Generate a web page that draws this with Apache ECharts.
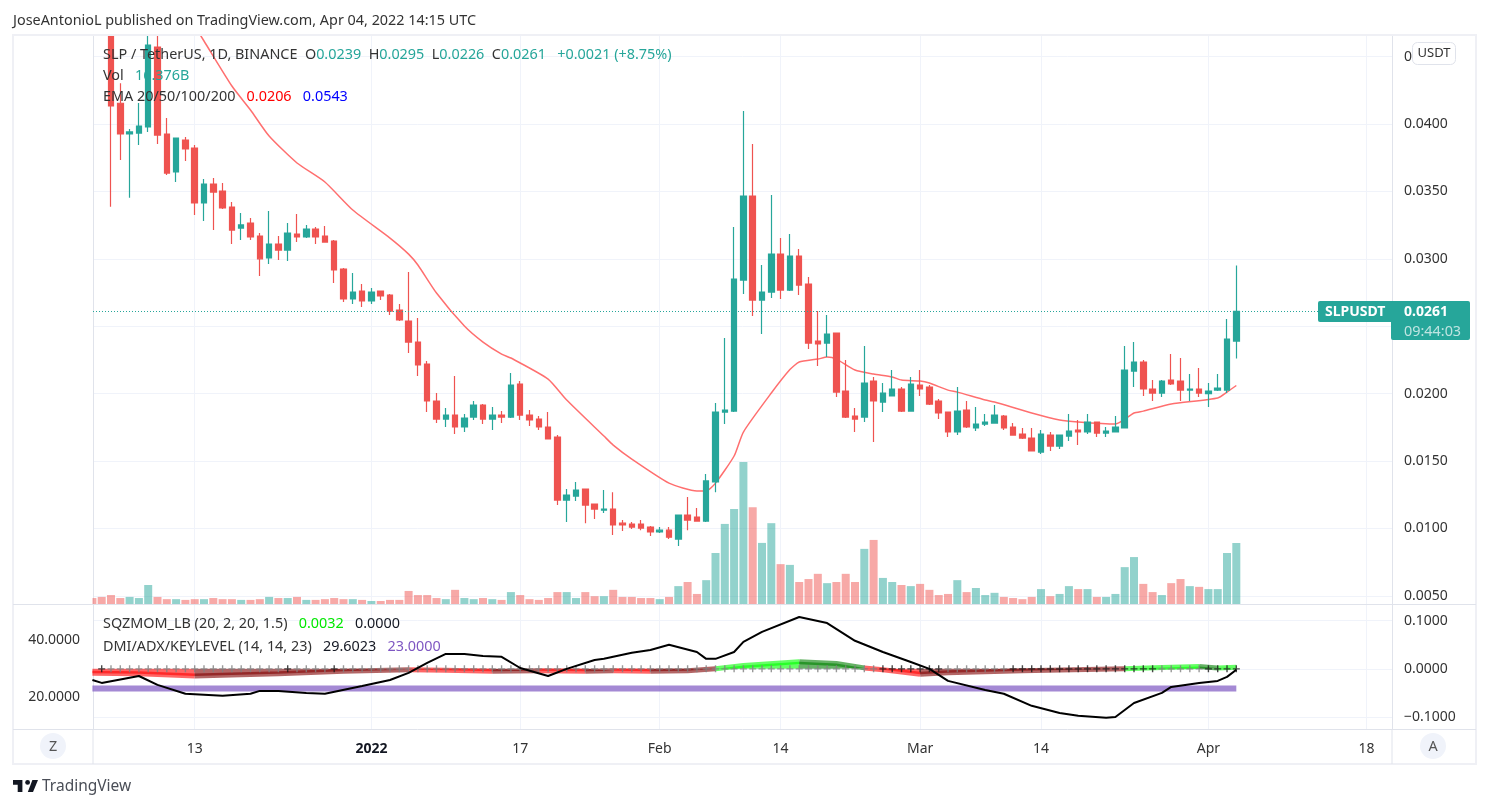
<!DOCTYPE html>
<html>
<head>
<meta charset="utf-8">
<title>SLPUSDT</title>
<script src="https://cdn.jsdelivr.net/npm/echarts@6/dist/echarts.min.js"></script>
<style>
html, body { margin: 0; padding: 0; background: #fff; }
#chart { width: 1489px; height: 808px; }
</style>
</head>
<body>
<div id="chart"></div>
<script>
// candles, one per day, day 0 = Dec 2 2021
let opens = [.059,.055,.0505,.04154,.03926,.03933,.03978,.04571,.03926,.03644,.03881,.03822,.03414,.03555,.03503,.03384,.03228,.03265,.03169,.03006,
  .0311,.03065,.03184,.03162,.03221,.03169,.03132,.02924,.02702,.02761,.02687,.02761,.02731,.0262,.02538,.02382,.02219,.01945,.01811,.01841,
  .01752,.01826,.01915,.01811,.01841,.01826,.02071,.01841,.01811,.01752,.01678,.0121,.0124,.01292,.0118,.01136,.01143,.01039,.01032,.01032,
  .0101,.00973,.00987,.00921,.01099,.01084,.01054,.01344,.01863,.0187,.02842,.03466,.02694,.02753,.03035,.02768,.03021,.02813,.0239,.02375,
  .02449,.02019,.01833,.01826,.02093,.01937,.01982,.02034,.0187,.02063,.02048,.01945,.01863,.01715,.01878,.01745,.01774,.01781,.01833,.01752,
  .017,.0167,.01566,.01692,.01611,.01685,.01729,.01715,.01789,.01707,.01715,.01745,.02167,.02234,.02034,.02004,.021,.02093,.02026,.02034,
  .02,.02026,.02026,.0239];
let closes = [.055,.0505,.04134,.03926,.03941,.03985,.04586,.03918,.03636,.03896,.03815,.03414,.03555,.03495,.03377,.03213,.03251,.03162,.03,.0311,
  .03065,.03191,.03162,.03221,.03162,.03124,.02917,.02702,.02753,.02687,.02753,.02724,.02612,.02546,.02382,.02212,.01945,.01811,.01841,.01752,
  .01819,.01915,.01811,.01841,.01826,.02063,.01841,.01804,.01752,.01663,.0121,.01247,.01284,.01173,.01143,.01143,.01025,.01025,.0101,.01002,
  .00973,.00987,.00935,.01099,.01062,.01054,.01352,.01863,.01878,.0285,.03466,.02694,.02753,.03035,.02768,.03021,.02805,.02375,.02368,.02442,
  .02011,.01826,.01811,.02078,.01945,.02004,.02034,.0187,.02071,.02034,.01922,.01856,.01715,.0187,.01752,.01774,.01789,.01841,.01745,.01692,
  .0167,.01574,.017,.01611,.01692,.01722,.01715,.01789,.01707,.01722,.01752,.02175,.02234,.02034,.02004,.02093,.02071,.02026,.02034,.02004,
  .02019,.02041,.02405,.0261];
let lows = [.0545,.0495,.03386,.03733,.03453,.03844,.03941,.03852,.03622,.0357,.03725,.03325,.0328,.03213,.03369,.0311,.03139,.03139,.02872,.02961,
  .02991,.02983,.03124,.03154,.0311,.03124,.0282,.02679,.02664,.02642,.02664,.02694,.02583,.02538,.02301,.0213,.01863,.01781,.01752,.017,
  .01715,.01804,.01774,.01729,.01781,.01819,.01804,.01759,.01729,.01663,.01173,.01047,.01203,.01039,.01069,.01114,.0095,.0098,.00995,.00987,
  .00943,.00965,.00921,.00869,.00987,.01054,.01047,.01269,.01774,.01863,.02739,.02575,.02442,.02709,.02702,.02761,.02731,.0233,.02204,.02271,
  .01974,.01819,.01715,.01789,.0164,.01863,.01982,.01863,.0187,.01982,.01915,.01811,.01678,.01692,.01745,.01722,.01759,.01781,.01729,.01692,
  .01663,.01574,.01551,.01574,.01589,.01648,.01618,.017,.01678,.01678,.01715,.01745,.02048,.01982,.01945,.01974,.02063,.01945,.01945,.01974,
  .019,.02019,.02004,.0226];
let highs = [.061,.056,.051,.04302,.03963,.04156,.0475,.0466,.04045,.03896,.03904,.03844,.03592,.03599,.03562,.03421,.0334,.03303,.03191,.03354,
  .03169,.03265,.03332,.03251,.03236,.03243,.03139,.02932,.02894,.02813,.02783,.02761,.02739,.02664,.02902,.0256,.02241,.02004,.01893,.0213,
  .01848,.01945,.01922,.019,.0187,.02152,.02093,.01878,.01833,.01863,.01692,.01292,.01344,.01292,.0118,.01284,.01269,.01062,.01047,.01062,
  .01017,.0101,.0101,.01099,.01232,.01151,.01403,.0193,.02412,.03236,.04096,.03852,.02954,.03473,.03154,.03184,.03073,.02865,.02612,.02583,
  .02449,.02249,.01893,.02353,.02123,.02078,.02175,.02048,.02123,.02175,.02063,.0196,.01863,.02048,.01945,.019,.01848,.01915,.01841,.01781,
  .01745,.01745,.01729,.01715,.01692,.01848,.01804,.01848,.01789,.01752,.01833,.02353,.02382,.02249,.021,.021,.02293,.02264,.02145,.0219,
  .02078,.02145,.02553,.0295];
// volume, billions
let volumes = [1.6,1.9,2.4,1.6,1.9,1.6,5.1,1.9,1.3,1.3,1.1,1.3,1.3,1.6,1.3,1.3,1.1,1.1,1.3,1.9,
  1.6,1.6,1.9,1.1,1.1,1.3,1.6,1.3,1.3,1.1,.8,.8,1.1,1.1,3.5,2.4,2.4,1.6,1.3,3.8,
  1.6,1.3,1.6,1.3,1.1,3.2,2.4,1.3,1.1,1.6,3.2,3.2,1.6,3.2,2.1,2.1,3.8,1.9,1.9,1.6,
  1.6,1.3,1.9,4.8,5.9,2.7,6.4,13.7,21.5,25.5,38.1,26,16.4,21.7,10.7,10.5,5.9,6.7,8.1,5.6,
  5.9,8.1,5.9,14.8,17.2,7,5.9,5.1,4.8,5.4,3.8,2.4,2.7,6.4,3.2,4.3,2.4,3,1.9,1.6,
  1.3,1.9,4,2.1,2.7,4.8,4,4,1.9,1.9,2.7,9.9,12.6,5.4,3.2,2.4,5.6,6.7,4.8,4.6,
  4,4,13.7,16.376];
// EMA 20, read at these days
let emaDays = [11,12,15,17,19,22,25,28,32,34,35,37,40,42,44,45,49,51,55,56,58,62,65,66,67,69,70,73,75,76,78,79,80,82,84,86,87,89,90,92,93,96,97,101,104,106,110,112,113,116,121,122,123];
let emaValues = [.04727,.04616,.04282,.04104,.03911,.03711,.0357,.03362,.03154,.03035,.02954,.02746,.02501,.02382,.02293,.02264,.02108,.01952,.01685,.01618,.01514,.01336,.01277,.01277,.01336,.01537,.01715,.02004,.02178,.02234,.02256,.02271,.02256,.02175,.02145,.02123,.021,.02093,.02078,.02026,.02011,.01952,.01937,.01856,.01804,.01789,.01774,.01856,.0187,.01922,.01967,.02011,.0206];
// ADX, read at these days
let adxDays = [0,1,5,7,10,14,17,18,20,23,25,29,32,34,36,38,40,42,44,46,49,51,54,55,58,60,62,65,66,67,69,70,72,76,79,82,85,88,90,92,96,98,101,104,106,109,110,112,115,116,119,121,122,123];
let adxValues = [26,25,27.4,24.3,21.2,20.5,21.2,22.2,22.2,21.5,21.2,23.9,26,28.5,32,35.1,35.1,34.4,34.1,30.2,27.4,29.9,33,33.4,35.5,36.5,38.3,35.8,33.4,33.4,35.8,39.3,42.8,48,45.9,39.7,35.8,32.3,29.9,25.7,22.5,21.2,17,14.5,13.5,12.8,13.1,18,21.5,23.6,25,25.7,27.1,29.6023];
let keyLevelDays = [0,123];
let keyLevelValues = [23,23];
// squeeze momentum pieces [day, value], by colour
let momFallingNeg = [[[0,-.009],[5,-.01],[11,-.015]], [[34,-.002],[38,-.003],[43,-.005]], [[48,-.004],[53,-.005]], [[56,-.004],[60,-.005]], [[83,.002],[85,-.002],[89,-.011]]];
let momRisingNeg = [[[11,-.015],[20,-.01],[27,-.005],[34,-.002]], [[43,-.005],[48,-.004]], [[53,-.005],[56,-.004]], [[60,-.005],[64,-.004],[67,0]], [[89,-.011],[92,-.008],[100,-.004],[111,0]]];
let momRisingPos = [[[67,0],[70,.007],[76,.015]], [[111,0],[115,.003],[119,.005]], [[121,.002],[123,.0032]]];
let momFallingPos = [[[76,.015],[80,.011],[83,.002]], [[119,.005],[121,.002]]];
let blackCrossDays = [0,1,21,26,85,86,87,88,89,90,91,99,100,101,102,103,104,105,106,107,108,109,110,111,112,113,114,120,121,122,123];
let grayCrossDays = [];
for (let d = 0; d <= 123; d++) {
    if (blackCrossDays.indexOf(d) < 0) grayCrossDays.push(d);
}

let tickDays = [11,30,46,61,74,89,102,120,137];
let tickLabels = ['13','2022','17','Feb','14','Mar','14','Apr','18'];
let priceTicks = [.005,.01,.015,.02,.025,.03,.035,.04,.045];
let momTicks = [-.1,0,.1];
let dmiTicks = [20,40];

const FONT = '"Noto Sans", sans-serif';
const UP = '#26a69a', DOWN = '#ef5350';
const GRID = '#f0f3fa', EDGE = '#e0e3eb';
const dayMin = .065, dayMax = 139.74;

function dayAxis(gridIndex, showLabels) {
    return {
        type: 'value', gridIndex: gridIndex, min: dayMin, max: dayMax, position: 'bottom',
        axisLine: { onZero: false, show: true, lineStyle: { color: EDGE, width: 1 } },
        axisTick: { show: false, customValues: tickDays },
        splitLine: { show: true, lineStyle: { color: GRID, width: 1 } },
        axisLabel: {
            show: showLabels, customValues: tickDays, margin: 13, hideOverlap: false, fontFamily: FONT, fontSize: 14, color: '#333',
            formatter: function (v) {
                let t = tickLabels[tickDays.indexOf(v)];
                return t === '2022' ? '{b|2022}' : t;
            },
            rich: { b: { fontFamily: FONT, fontSize: 14, fontWeight: 'bold', color: '#131722' } }
        }
    };
}

let candleData = opens.map(function (o, i) { return [i, o, closes[i], lows[i], highs[i]]; });
let volumeData = volumes.map(function (v, i) {
    return { value: [i, v], itemStyle: { color: closes[i] >= opens[i] ? 'rgba(38,166,154,.5)' : 'rgba(239,83,80,.5)' } };
});

let series = [
    { name: 'Vol', type: 'bar', xAxisIndex: 0, yAxisIndex: 1, barWidth: 8, data: volumeData, z: 1 },
    {
        name: 'EMA', type: 'line', xAxisIndex: 0, yAxisIndex: 0, showSymbol: false, smooth: .2, z: 2,
        data: emaDays.map(function (d, i) { return [d, emaValues[i]]; }),
        lineStyle: { color: '#ff6f6f', width: 1.5 }
    },
    {
        name: 'SLPUSDT', type: 'candlestick', xAxisIndex: 0, yAxisIndex: 0, barWidth: 6, z: 3,
        encode: { x: 0, y: [1, 2, 3, 4] }, data: candleData,
        itemStyle: { color: UP, color0: DOWN, borderColor: UP, borderColor0: DOWN, borderWidth: 1.2 },
        markLine: {
            silent: true, symbol: 'none', animation: false, label: { show: false }, precision: 4,
            lineStyle: { color: UP, type: [1, 2], width: 1 },
            data: [{ yAxis: closes[closes.length - 1] }]
        }
    }
];

function addMomentum(pieces, color) {
    for (let piece of pieces) {
        series.push({
            type: 'line', xAxisIndex: 1, yAxisIndex: 2, showSymbol: false, z: 2, data: piece,
            lineStyle: { color: color, width: 5, opacity: .6 },
            areaStyle: { color: color, opacity: .6, origin: 0 }
        });
    }
}
addMomentum(momFallingNeg, '#ff0000');
addMomentum(momRisingNeg, '#800000');
addMomentum(momRisingPos, '#00ff00');
addMomentum(momFallingPos, '#008000');

series.push({
    name: 'KeyLevel', type: 'line', xAxisIndex: 1, yAxisIndex: 3, showSymbol: false, z: 3,
    data: keyLevelDays.map(function (d, i) { return [d, keyLevelValues[i]]; }),
    lineStyle: { color: '#7e57c2', width: 6, opacity: .7, cap: 'butt' }
});

const PLUS = 'path://M4 0h2v4h4v2H6v4H4V6H0V4h4z';
function addCrosses(days, color) {
    series.push({
        type: 'scatter', xAxisIndex: 1, yAxisIndex: 2, symbol: PLUS, symbolSize: 7, z: 4,
        data: days.map(function (d) { return [d, 0]; }),
        itemStyle: { color: color }
    });
}
addCrosses(grayCrossDays, '#808080');
addCrosses(blackCrossDays, '#1a1a1a');

series.push({
    name: 'ADX', type: 'line', xAxisIndex: 1, yAxisIndex: 3, showSymbol: false, z: 5,
    data: adxDays.map(function (d, i) { return [d, adxValues[i]]; }),
    lineStyle: { color: '#000', width: 2 }
});

function txt(x, y, text, style) {
    return {
        type: 'text', x: x, y: y, z: 50, silent: true,
        style: Object.assign({ text: text, font: '14.4px ' + FONT, fill: '#333', textVerticalAlign: 'middle' }, style || {})
    };
}
function rule(x1, y1, x2, y2, color, width) {
    return { type: 'line', z: 40, silent: true, shape: { x1: x1, y1: y1, x2: x2, y2: y2 }, style: { stroke: color, lineWidth: width } };
}
function tag(color) {
    return { fontFamily: FONT, fontSize: 14.4, fill: color, height: 18 };
}
let richLegend = {
    d: tag('#333'), g: tag(UP), r: tag('#ff0000'), b: tag('#0000ff'),
    l: tag('#00e800'), k: tag('#131722'), p: tag('#7e57c2')
};

let graphics = [
    // hides wicks past the top of the pane and the half bar left of it
    { type: 'rect', z: 38, silent: true, shape: { x: 85, y: 0, width: 1310, height: 35 }, style: { fill: '#fff' } },
    { type: 'rect', z: 38, silent: true, shape: { x: 80, y: 36, width: 12.5, height: 568 }, style: { fill: '#fff' } },
    // frame
    { type: 'rect', z: 39, silent: true, shape: { x: 13, y: 35, width: 1463, height: 729 }, style: { fill: 'none', stroke: '#eff0f5', lineWidth: 2 } },
    rule(93, 729.5, 93, 764, EDGE, 1),
    rule(1392, 729.5, 1392, 764, EDGE, 1),
    rule(13, 729.5, 93, 729.5, EDGE, 1),
    rule(1392, 729.5, 1476, 729.5, EDGE, 1),
    rule(1392, 604.5, 1476, 604.5, EDGE, 1),
    rule(13, 604.5, 93, 604.5, EDGE, 1),
    // header and footer
    txt(13, 20.5, 'JoseAntonioL published on TradingView.com, Apr 04, 2022 14:15 UTC'),
    { type: 'polygon', z: 50, silent: true, shape: { points: [[22.4,780],[13,780],[13,784.8],[17.7,784.8],[17.7,792],[22.4,792]] }, style: { fill: '#131722' } },
    { type: 'polygon', z: 50, silent: true, shape: { points: [[33,792],[27.8,792],[32.4,780],[38,780]] }, style: { fill: '#131722' } },
    { type: 'circle', z: 50, silent: true, shape: { cx: 27.6, cy: 782.4, r: 2.4 }, style: { fill: '#131722' } },
    txt(42, 786.5, 'TradingView', { font: '15.5px ' + FONT, fill: '#4a4e57' }),
    // legends
    txt(103, 55, '{d|SLP / TetherUS, 1D, BINANCE  O}{g|0.0239}{d|  H}{g|0.0295}{d|  L}{g|0.0226}{d|  C}{g|0.0261   +0.0021 (+8.75%)}', { rich: richLegend }),
    txt(103, 76, '{d|Vol}   {g|16.376B}', { rich: richLegend }),
    txt(103, 97, '{d|EMA 20/50/100/200}   {r|0.0206}   {b|0.0543}', { rich: richLegend }),
    txt(103, 624, '{d|SQZMOM_LB (20, 2, 20, 1.5)}   {l|0.0032}   {k|0.0000}', { rich: richLegend }),
    txt(103, 647, '{d|DMI/ADX/KEYLEVEL (14, 14, 23)}   {k|29.6023}   {p|23.0000}', { rich: richLegend }),
    // currency button
    { type: 'rect', z: 50, silent: true, shape: { x: 1412.5, y: 42.5, width: 43, height: 22, r: 5 }, style: { fill: '#fff', stroke: EDGE, lineWidth: 1 } },
    txt(1434, 53.5, 'USDT', { textAlign: 'center', font: '13px ' + FONT, fill: '#333' }),
    // last price tag
    { type: 'rect', z: 50, silent: true, shape: { x: 1318, y: 301, width: 76, height: 21, r: [2, 0, 0, 2] }, style: { fill: UP } },
    { type: 'rect', z: 50, silent: true, shape: { x: 1391, y: 301, width: 79, height: 39, r: [2, 2, 2, 2] }, style: { fill: UP } },
    txt(1325, 312.5, 'SLPUSDT', { font: 'bold 14px ' + FONT, fill: '#fff' }),
    txt(1404, 312.5, '0.0261', { font: 'bold 14px ' + FONT, fill: '#fff' }),
    txt(1404, 331.5, '09:44:03', { fill: 'rgba(255,255,255,.7)' }),
    // corner buttons
    { type: 'circle', z: 50, silent: true, shape: { cx: 53, cy: 746, r: 13 }, style: { fill: '#f0f3fa' } },
    txt(53, 746.5, 'Z', { textAlign: 'center', fill: '#555' }),
    { type: 'circle', z: 50, silent: true, shape: { cx: 1433, cy: 746, r: 13 }, style: { fill: '#f0f3fa' } },
    txt(1433, 746.5, 'A', { textAlign: 'center', fill: '#555' })
];

let optionChart = {
    animation: false,
    backgroundColor: '#fff',
    grid: [
        { left: 93, top: 36, width: 1299, height: 568 },
        { left: 93, top: 605, width: 1299, height: 124 }
    ],
    xAxis: [dayAxis(0, false), dayAxis(1, true)],
    yAxis: [
        {
            type: 'value', gridIndex: 0, position: 'right', scale: true, min: .00439, max: .04653,
            axisLine: { show: true, lineStyle: { color: EDGE } },
            axisTick: { show: false, customValues: priceTicks },
            splitLine: { show: true, lineStyle: { color: GRID } },
            axisLabel: { customValues: priceTicks, margin: 12, padding: [4, 0, 0, 0], fontFamily: FONT, fontSize: 14, color: '#333', formatter: function (v) { return v.toFixed(4); } }
        },
        {
            type: 'value', gridIndex: 0, position: 'left', min: 0, max: 152.5,
            axisLine: { show: true, lineStyle: { color: EDGE } },
            axisTick: { show: false }, splitLine: { show: false }, axisLabel: { show: false }
        },
        {
            type: 'value', gridIndex: 1, position: 'right', min: -.1249, max: .1326,
            axisLine: { show: true, lineStyle: { color: EDGE } },
            axisTick: { show: false, customValues: momTicks },
            splitLine: { show: true, lineStyle: { color: GRID } },
            axisLabel: {
                customValues: momTicks, margin: 12, padding: [4, 0, 0, 0], fontFamily: FONT, fontSize: 14, color: '#333',
                formatter: function (v) { return v < 0 ? '\u2212' + Math.abs(v).toFixed(4) : v.toFixed(4); }
            }
        },
        {
            type: 'value', gridIndex: 1, position: 'left', min: 8.9, max: 52.2,
            axisLine: { show: true, lineStyle: { color: EDGE } },
            axisTick: { show: false, customValues: dmiTicks }, splitLine: { show: false },
            axisLabel: { customValues: dmiTicks, margin: 13, padding: [4, 0, 0, 0], fontFamily: FONT, fontSize: 14, color: '#333', formatter: function (v) { return v.toFixed(4); } }
        }
    ],
    graphic: { elements: graphics },
    series: series
};

let chart = echarts.init(document.getElementById('chart'));
chart.setOption(optionChart);
</script>
</body>
</html>
